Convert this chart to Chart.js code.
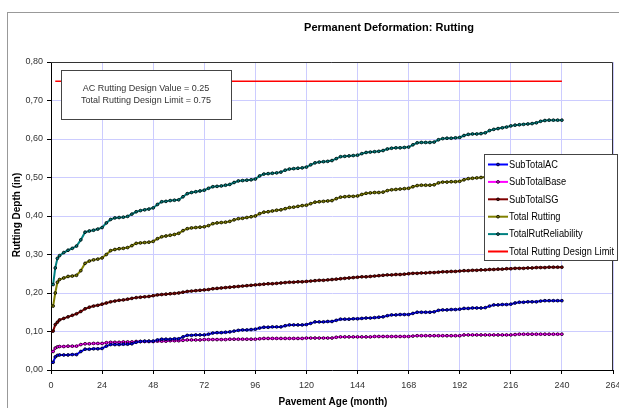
<!DOCTYPE html>
<html>
<head>
<meta charset="utf-8">
<script src="https://cdn.jsdelivr.net/npm/chart.js@4"></script>
<style>
  html, body { margin: 0; padding: 0; background: #fff; }
  #wrap { width: 619px; height: 408px; }
</style>
</head>
<body>
<div id="wrap"><canvas id="rutChart" width="619" height="408"></canvas></div>
<script>
// **Data (months, rutting depth in inches)**
const months = [0, 1, 2, 3, 4, 6, 8, 10, 12,
  14, 16, 18, 20, 22, 24, 26, 28, 30, 32, 34, 36,
  38, 40, 42, 44, 46, 48, 50, 52, 54, 56, 58, 60,
  62, 64, 66, 68, 70, 72, 74, 76, 78, 80, 82, 84,
  86, 88, 90, 92, 94, 96, 98, 100, 102, 104, 106, 108,
  110, 112, 114, 116, 118, 120, 122, 124, 126, 128, 130, 132,
  134, 136, 138, 140, 142, 144, 146, 148, 150, 152, 154, 156,
  158, 160, 162, 164, 166, 168, 170, 172, 174, 176, 178, 180,
  182, 184, 186, 188, 190, 192, 194, 196, 198, 200, 202, 204,
  206, 208, 210, 212, 214, 216, 218, 220, 222, 224, 226, 228,
  230, 232, 234, 236, 238, 240];

const subTotalAC = [0.019, 0.020, 0.034, 0.038, 0.039, 0.039, 0.039, 0.040, 0.040,
  0.048, 0.054, 0.054, 0.055, 0.055, 0.056, 0.062, 0.066, 0.066, 0.066, 0.067, 0.067,
  0.068, 0.072, 0.074, 0.075, 0.075, 0.075, 0.078, 0.080, 0.080, 0.080, 0.081, 0.081,
  0.086, 0.090, 0.090, 0.091, 0.091, 0.091, 0.093, 0.096, 0.097, 0.097, 0.098, 0.099,
  0.101, 0.103, 0.104, 0.104, 0.105, 0.106, 0.109, 0.111, 0.111, 0.112, 0.112, 0.112,
  0.115, 0.117, 0.117, 0.117, 0.117, 0.118, 0.121, 0.125, 0.125, 0.125, 0.126, 0.126,
  0.129, 0.132, 0.132, 0.132, 0.133, 0.133, 0.134, 0.135, 0.135, 0.136, 0.137, 0.138,
  0.141, 0.143, 0.143, 0.144, 0.144, 0.144, 0.147, 0.150, 0.150, 0.150, 0.150, 0.151,
  0.155, 0.156, 0.156, 0.157, 0.157, 0.158, 0.160, 0.160, 0.161, 0.161, 0.161, 0.162,
  0.166, 0.169, 0.169, 0.170, 0.170, 0.171, 0.174, 0.176, 0.176, 0.177, 0.177, 0.177,
  0.179, 0.180, 0.180, 0.180, 0.180, 0.180];

const subTotalBase = [0.047, 0.048, 0.057, 0.060, 0.061, 0.061, 0.062, 0.062, 0.062,
  0.066, 0.068, 0.068, 0.069, 0.069, 0.069, 0.071, 0.072, 0.072, 0.072, 0.073, 0.073,
  0.073, 0.074, 0.074, 0.074, 0.074, 0.074, 0.075, 0.075, 0.075, 0.076, 0.076, 0.076,
  0.077, 0.078, 0.078, 0.078, 0.078, 0.079, 0.079, 0.079, 0.079, 0.079, 0.079, 0.080,
  0.080, 0.080, 0.080, 0.080, 0.080, 0.080, 0.081, 0.082, 0.082, 0.082, 0.082, 0.082,
  0.082, 0.082, 0.082, 0.082, 0.082, 0.083, 0.083, 0.083, 0.083, 0.083, 0.083, 0.083,
  0.085, 0.086, 0.086, 0.086, 0.086, 0.086, 0.086, 0.086, 0.086, 0.087, 0.087, 0.087,
  0.087, 0.087, 0.087, 0.087, 0.087, 0.087, 0.088, 0.089, 0.089, 0.089, 0.089, 0.089,
  0.089, 0.089, 0.089, 0.089, 0.089, 0.089, 0.091, 0.091, 0.091, 0.091, 0.091, 0.091,
  0.091, 0.091, 0.091, 0.091, 0.091, 0.091, 0.092, 0.093, 0.093, 0.093, 0.093, 0.093,
  0.093, 0.093, 0.093, 0.093, 0.093, 0.093];

const subTotalSG = [0.100, 0.101, 0.118, 0.124, 0.130, 0.134, 0.138, 0.142, 0.146,
  0.152, 0.159, 0.163, 0.166, 0.168, 0.171, 0.174, 0.177, 0.179, 0.181, 0.182, 0.184,
  0.186, 0.188, 0.189, 0.190, 0.191, 0.193, 0.195, 0.196, 0.197, 0.198, 0.199, 0.200,
  0.202, 0.204, 0.205, 0.206, 0.207, 0.208, 0.209, 0.211, 0.212, 0.213, 0.214, 0.215,
  0.216, 0.217, 0.218, 0.219, 0.220, 0.221, 0.222, 0.223, 0.224, 0.224, 0.225, 0.226,
  0.227, 0.228, 0.228, 0.229, 0.229, 0.230, 0.231, 0.232, 0.233, 0.233, 0.234, 0.235,
  0.236, 0.237, 0.238, 0.239, 0.240, 0.241, 0.242, 0.242, 0.243, 0.244, 0.245, 0.246,
  0.247, 0.247, 0.248, 0.248, 0.249, 0.250, 0.251, 0.251, 0.252, 0.252, 0.253, 0.253,
  0.254, 0.255, 0.255, 0.256, 0.256, 0.257, 0.258, 0.258, 0.259, 0.259, 0.260, 0.260,
  0.261, 0.261, 0.262, 0.262, 0.263, 0.263, 0.264, 0.264, 0.264, 0.265, 0.265, 0.266,
  0.266, 0.266, 0.267, 0.267, 0.267, 0.267];

const totalRutting = [0.167, 0.166, 0.200, 0.228, 0.235, 0.239, 0.243, 0.244, 0.246,
  0.258, 0.277, 0.283, 0.286, 0.288, 0.291, 0.300, 0.310, 0.313, 0.315, 0.316, 0.318,
  0.323, 0.329, 0.330, 0.331, 0.332, 0.334, 0.341, 0.346, 0.348, 0.350, 0.352, 0.355,
  0.362, 0.367, 0.369, 0.370, 0.371, 0.372, 0.375, 0.380, 0.382, 0.383, 0.384, 0.386,
  0.390, 0.393, 0.394, 0.396, 0.398, 0.400, 0.406, 0.410, 0.411, 0.413, 0.415, 0.416,
  0.419, 0.422, 0.423, 0.425, 0.427, 0.428, 0.432, 0.436, 0.437, 0.438, 0.439, 0.440,
  0.445, 0.449, 0.450, 0.451, 0.451, 0.452, 0.456, 0.459, 0.460, 0.461, 0.461, 0.462,
  0.466, 0.468, 0.469, 0.470, 0.471, 0.472, 0.476, 0.479, 0.480, 0.480, 0.480, 0.481,
  0.486, 0.488, 0.488, 0.489, 0.489, 0.490, 0.494, 0.497, 0.498, 0.499, 0.500, 0.501,
  0.506, 0.509, 0.510, 0.511, 0.512, 0.513, 0.518, 0.521, 0.522, 0.523, 0.524, 0.525,
  0.529, 0.532, 0.533, 0.534, 0.534, 0.535];

const totalRutReliability = [0.222, 0.222, 0.265, 0.290, 0.297, 0.305, 0.311, 0.316, 0.322,
  0.338, 0.358, 0.361, 0.363, 0.366, 0.370, 0.382, 0.391, 0.395, 0.396, 0.397, 0.399,
  0.405, 0.411, 0.414, 0.416, 0.418, 0.421, 0.430, 0.437, 0.438, 0.440, 0.441, 0.442,
  0.450, 0.458, 0.461, 0.463, 0.465, 0.467, 0.472, 0.476, 0.477, 0.478, 0.480, 0.482,
  0.487, 0.491, 0.492, 0.493, 0.494, 0.496, 0.504, 0.509, 0.510, 0.511, 0.512, 0.514,
  0.519, 0.522, 0.523, 0.524, 0.525, 0.527, 0.533, 0.538, 0.540, 0.541, 0.542, 0.544,
  0.549, 0.554, 0.555, 0.556, 0.557, 0.558, 0.562, 0.565, 0.566, 0.567, 0.568, 0.570,
  0.574, 0.576, 0.577, 0.577, 0.578, 0.579, 0.585, 0.590, 0.591, 0.591, 0.591, 0.592,
  0.598, 0.601, 0.602, 0.602, 0.603, 0.604, 0.609, 0.612, 0.613, 0.613, 0.614, 0.616,
  0.622, 0.625, 0.627, 0.629, 0.631, 0.634, 0.636, 0.637, 0.638, 0.639, 0.640, 0.642,
  0.646, 0.648, 0.649, 0.649, 0.649, 0.649];

const limitMonths = [2, 240];
const designLimit = [0.75, 0.75];

const seriesNames = ["SubTotalAC", "SubTotalBase", "SubTotalSG", "Total Rutting", "TotalRutReliability", "Total Rutting Design Limit"];
const seriesColors = ["#0000ff", "#ff00ff", "#800000", "#808000", "#008080", "#ff0000"];

const xTicks = [0, 24, 48, 72, 96, 120, 144, 168, 192, 216, 240, 264];
const yTickLabels = ["0,00", "0,10", "0,20", "0,30", "0,40", "0,50", "0,60", "0,70", "0,80"];

const chartTitle = "Permanent Deformation: Rutting";
const xTitle = "Pavement Age (month)";
const yTitle = "Rutting Depth (in)";
const noteLines = ["AC Rutting Design Value = 0.25", "Total Rutting Design Limit = 0.75"];

const FONT = "'Liberation Sans', Arial, sans-serif";

function toPoints(xs, ys) {
    return xs.map((x, i) => ({ x: x, y: ys[i] }));
}

function markedSeries(label, values, color) {
    return {
        label: label,
        data: toPoints(months, values),
        borderColor: color,
        backgroundColor: color,
        borderWidth: 2,
        pointRadius: 1.4,
        pointBorderWidth: 0.8,
        pointBorderColor: "#000",
        pointBackgroundColor: color,
        tension: 0
    };
}

// draw text squeezed to a given width (Excel's text renders narrower)
function fitText(ctx, text, x, y, width) {
    let w = ctx.measureText(text).width;
    let s = Math.min(1, width / w);
    ctx.save();
    ctx.translate(x, y);
    ctx.scale(s, 1);
    ctx.fillText(text, 0, 0);
    ctx.restore();
}

// **Frame, titles, note box and legend**
const decorations = {
    id: "decorations",
    beforeDraw(chart) {
        const ctx = chart.ctx;
        ctx.save();
        ctx.fillStyle = "#fff";
        ctx.fillRect(0, 0, chart.width, chart.height);
        ctx.strokeStyle = "#999";
        ctx.lineWidth = 1;
        ctx.strokeRect(7.5, 12.5, 640, 420);
        ctx.restore();
    },
    afterDraw(chart) {
        const ctx = chart.ctx;
        const a = chart.chartArea;
        ctx.save();

        // top & right plot border
        ctx.strokeStyle = "#333";
        ctx.lineWidth = 1;
        ctx.beginPath();
        ctx.moveTo(a.left, a.top + 0.5);
        ctx.lineTo(a.right - 0.5, a.top + 0.5);
        ctx.lineTo(a.right - 0.5, a.bottom);
        ctx.stroke();

        // chart title
        ctx.fillStyle = "#000";
        ctx.font = "bold 11px " + FONT;
        ctx.textAlign = "center";
        ctx.textBaseline = "middle";
        ctx.fillText(chartTitle, 389, 28);

        // axis titles
        ctx.font = "bold 10px " + FONT;
        ctx.fillText(xTitle, 333, 402);
        ctx.save();
        ctx.translate(17, 215);
        ctx.rotate(-Math.PI / 2);
        ctx.fillText(yTitle, 0, 0);
        ctx.restore();

        // note box
        ctx.fillStyle = "#fff";
        ctx.fillRect(61.5, 70.5, 170, 49);
        ctx.strokeStyle = "#444";
        ctx.strokeRect(61.5, 70.5, 170, 49);
        ctx.fillStyle = "#333";
        ctx.font = "9px " + FONT;
        ctx.fillText(noteLines[0], 146, 88.5);
        ctx.fillText(noteLines[1], 146, 101);

        // legend
        const lx = 484, ly = 154, lw = 133, lh = 106;
        ctx.fillStyle = "#fff";
        ctx.fillRect(lx + 0.5, ly + 0.5, lw, lh);
        ctx.strokeStyle = "#444";
        ctx.strokeRect(lx + 0.5, ly + 0.5, lw, lh);
        ctx.font = "10px " + FONT;
        ctx.textAlign = "left";
        const fullWidth = ctx.measureText(seriesNames[5]).width;
        const squeeze = 105 / fullWidth;
        seriesNames.forEach((name, i) => {
            const y = 164.5 + i * 17.4;
            ctx.strokeStyle = seriesColors[i];
            ctx.lineWidth = 2;
            ctx.beginPath();
            ctx.moveTo(488, y);
            ctx.lineTo(508, y);
            ctx.stroke();
            if (i < 5) {
                ctx.fillStyle = seriesColors[i];
                ctx.strokeStyle = "#000";
                ctx.lineWidth = 0.8;
                ctx.beginPath();
                ctx.arc(498, y, 1.4, 0, Math.PI * 2);
                ctx.fill();
                ctx.stroke();
            }
            ctx.fillStyle = "#000";
            fitText(ctx, name, 509, y + 0.5, ctx.measureText(name).width * squeeze);
        });

        ctx.restore();
    }
};

const datasets = [
    markedSeries(seriesNames[0], subTotalAC, seriesColors[0]),
    markedSeries(seriesNames[1], subTotalBase, seriesColors[1]),
    markedSeries(seriesNames[2], subTotalSG, seriesColors[2]),
    markedSeries(seriesNames[3], totalRutting, seriesColors[3]),
    markedSeries(seriesNames[4], totalRutReliability, seriesColors[4]),
    {
        label: seriesNames[5],
        data: toPoints(limitMonths, designLimit),
        borderColor: seriesColors[5],
        borderWidth: 1.5,
        pointRadius: 0
    }
];

let ctx = document.getElementById("rutChart").getContext("2d");
window.myChart = new Chart(ctx, {
    type: "line",
    data: { datasets: datasets },
    options: {
        responsive: false,
        animation: false,
        layout: { padding: { top: 62, right: 6, left: 0, bottom: 0 } },
        plugins: {
            legend: { display: false },
            title: { display: false },
            tooltip: { enabled: false }
        },
        scales: {
            x: {
                type: "linear",
                min: 0,
                max: 264,
                afterBuildTicks: (scale) => { scale.ticks = xTicks.map(v => ({ value: v })); },
                afterFit: (scale) => { scale.height = 38; scale.paddingLeft = 0; scale.paddingRight = 0; },
                ticks: {
                    color: "#333",
                    font: { family: FONT, size: 9 },
                    padding: 6,
                    maxRotation: 0,
                    autoSkip: false
                },
                grid: { color: "#ccccff", tickColor: "#000", tickLength: 4, lineWidth: 1 },
                border: { color: "#000", width: 1 }
            },
            y: {
                type: "linear",
                min: 0,
                max: 0.8,
                afterFit: (scale) => { scale.width = 51; scale.paddingTop = 0; scale.paddingBottom = 0; },
                ticks: {
                    stepSize: 0.1,
                    color: "#333",
                    font: { family: FONT, size: 9 },
                    padding: 4,
                    callback: (v, i) => yTickLabels[i]
                },
                grid: { color: "#ccccff", tickColor: "#000", tickLength: 4, lineWidth: 1 },
                border: { color: "#000", width: 1 }
            }
        }
    },
    plugins: [decorations]
});
</script>
</body>
</html>
